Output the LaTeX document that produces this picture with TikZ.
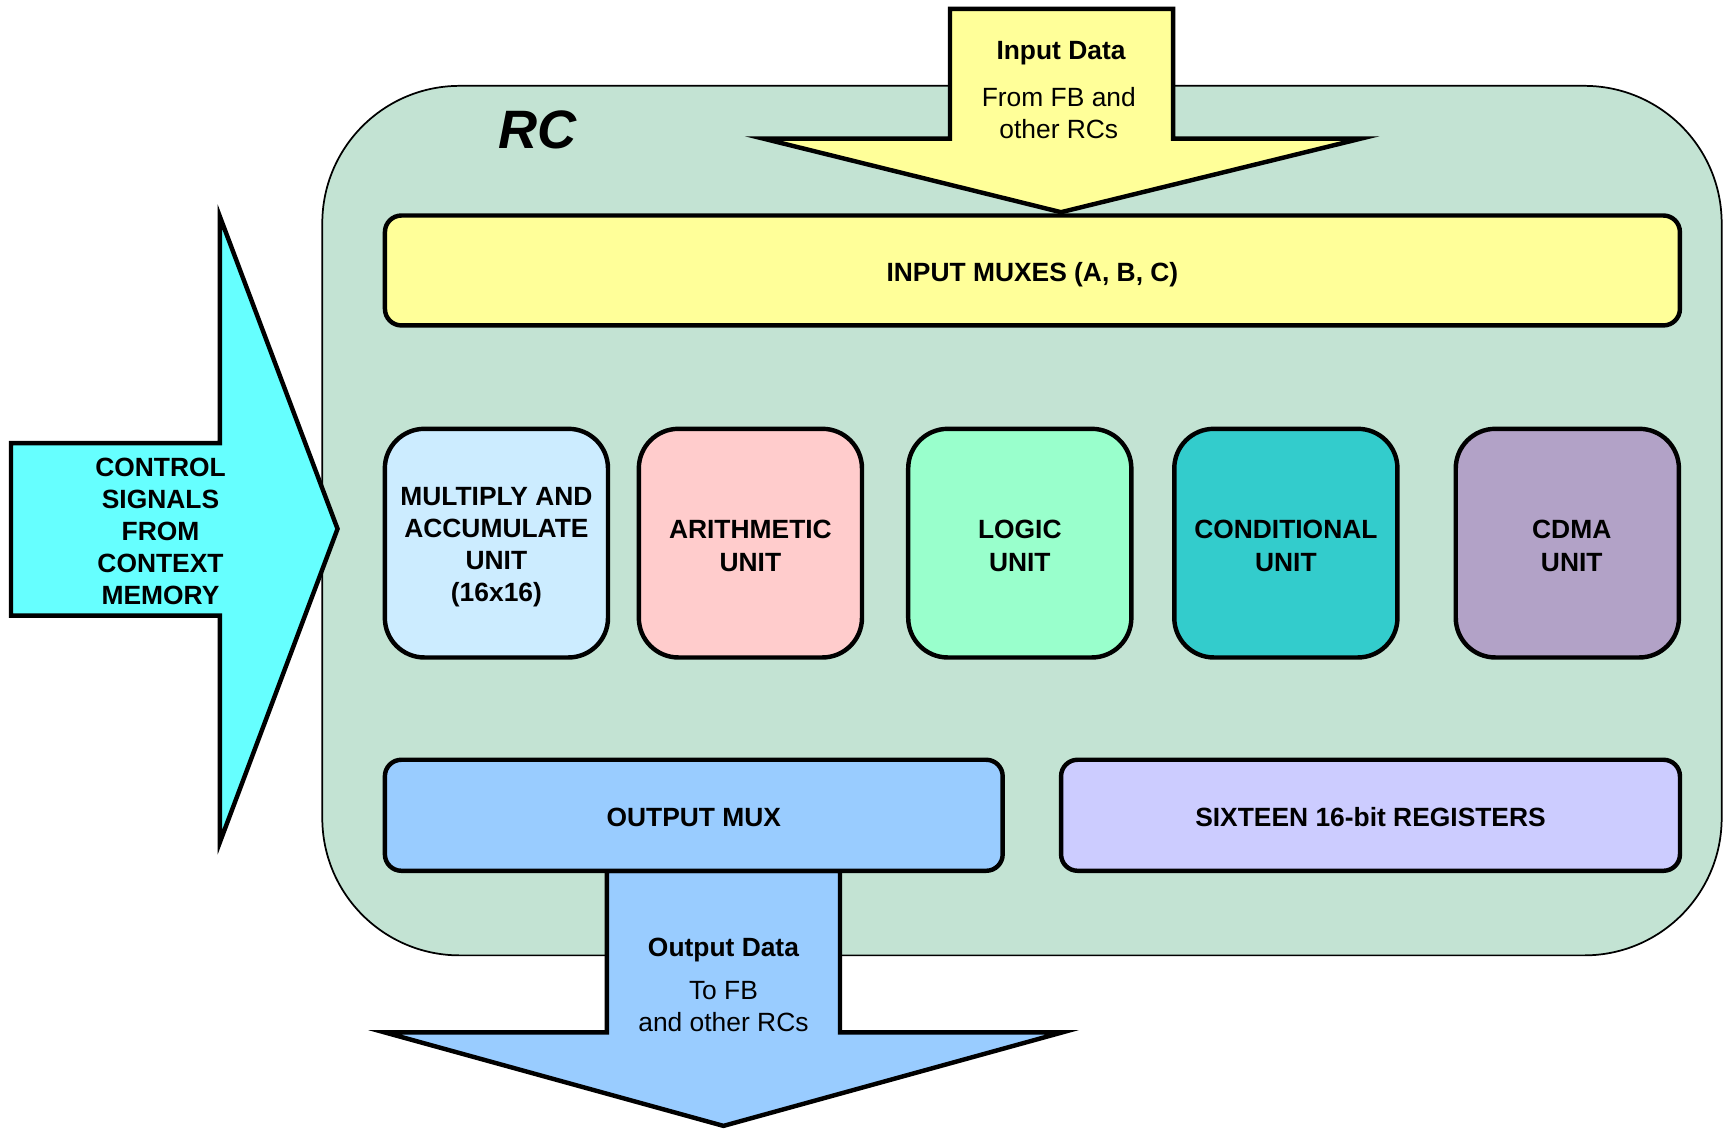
\documentclass[tikz,border=0pt]{standalone}
\usepackage{fontspec}
\setmainfont{Liberation Sans}
\begin{document}
\begin{tikzpicture}[x=0.02cm, y=-0.02cm,
  line join=miter,
  lbl/.style={font=\fontsize{13.66}{16.6}\selectfont\bfseries, align=center, inner sep=0pt},
  plain/.style={font=\fontsize{13.66}{16.6}\selectfont, align=center, inner sep=0pt},
  blockbox/.style={draw=black, line width=2.3pt, rounded corners=0.3cm, inner sep=0pt},
  unitbox/.style={blockbox, rounded corners=0.72cm, minimum width=4.06cm, minimum height=4.16cm},
  bigarrow/.style={draw=black, line width=2.3pt}
]
\definecolor{rcgreen}{RGB}{195,227,211}
\definecolor{pale}{RGB}{255,255,153}
\definecolor{aqua}{RGB}{102,255,255}
\definecolor{macblue}{RGB}{204,236,255}
\definecolor{pink}{RGB}{255,204,204}
\definecolor{mint}{RGB}{153,255,204}
\definecolor{teal}{RGB}{51,204,204}
\definecolor{lilac}{RGB}{178,162,199}
\definecolor{skyblue}{RGB}{153,204,255}
\definecolor{lavender}{RGB}{204,204,255}

\useasboundingbox (0,0) rectangle (1568,1027);

% reconfigurable cell outline
\node[draw=black, line width=0.9pt, fill=rcgreen, rounded corners=2.5cm,
      minimum width=25.46cm, minimum height=15.82cm, inner sep=0pt] (rc) at (929.5,473.5) {};
\node[font=\fontsize{28}{30}\selectfont\bfseries\itshape, inner sep=0pt] (rclabel) at (489,118) {RC};

% input multiplexers
\node[blockbox, fill=pale, minimum width=23.56cm, minimum height=2.0cm] (inmux) at (939,246) {};
\node[lbl] (inmux-text) at ([yshift=-0.07cm]inmux.center) {INPUT MUXES (A, B, C)};

% functional units
\node[unitbox, fill=macblue] (mac)   at (451.5,494) {};
\node[unitbox, fill=pink]    (arith) at (682.5,494) {};
\node[unitbox, fill=mint]    (logic) at (927.5,494) {};
\node[unitbox, fill=teal]    (cond)  at (1169.5,494) {};
\node[unitbox, fill=lilac]   (cdma)  at (1425.5,494) {};
\node[lbl] (mac-text)   at ([yshift=-0.07cm]mac.center)   {MULTIPLY AND\\ACCUMULATE\\UNIT\\(16x16)};
\node[lbl] (arith-text) at ([yshift=-0.05cm]arith.center) {ARITHMETIC\\UNIT};
\node[lbl] (logic-text) at ([yshift=-0.05cm]logic.center) {LOGIC\\UNIT};
\node[lbl] (cond-text)  at ([yshift=-0.05cm]cond.center)  {CONDITIONAL\\UNIT};
\node[lbl] (cdma-text)  at ([xshift=0.08cm,yshift=-0.05cm]cdma.center) {CDMA\\UNIT};

% output data arrow leaving the output multiplexer
\coordinate (outtip) at (658,1024);
\path[bigarrow, fill=skyblue]
  (552,792) -- (552,939) -- (350,939) -- (outtip) -- (966,939) -- (764,939) -- (764,792) -- cycle;
\node[lbl]   (outdata) at (658,864) {Output Data};
\node[plain] (outdest) at (658,915.5) {To FB\\and other RCs};

% output multiplexer and register file
\node[blockbox, fill=skyblue,  minimum width=11.24cm, minimum height=2.02cm] (outmux) at (631,741.5) {};
\node[blockbox, fill=lavender, minimum width=11.26cm, minimum height=2.02cm] (regs) at (1246.5,741.5) {};
\node[lbl] (outmux-text) at ([yshift=-0.04cm]outmux.center) {OUTPUT MUX};
\node[lbl] (regs-text)   at ([yshift=-0.04cm]regs.center)   {SIXTEEN 16-bit REGISTERS};

% input data arrow feeding the input multiplexers
\coordinate (intip) at (965,193);
\path[bigarrow, fill=pale]
  (864,126) -- (864,8) -- (1067,8) -- (1067,126) -- (1238,126) -- (intip) -- (694,126) -- cycle;
\node[lbl]   (indata) at (965,48) {Input Data};
\node[plain] (insrc)  at (963,102.5) {From FB and\\other RCs};

% control signals arrow
\coordinate (ctrltip) at (307,481);
\path[bigarrow, fill=aqua]
  (10,403) -- (200,403) -- (200,197) -- (ctrltip) -- (200,766) -- (200,560) -- (10,560) -- cycle;
\node[lbl, font=\fontsize{13.66}{16.5}\selectfont\bfseries] (ctrl) at (146,483.5) {CONTROL\\SIGNALS\\FROM\\CONTEXT\\MEMORY};
\end{tikzpicture}
\end{document}
